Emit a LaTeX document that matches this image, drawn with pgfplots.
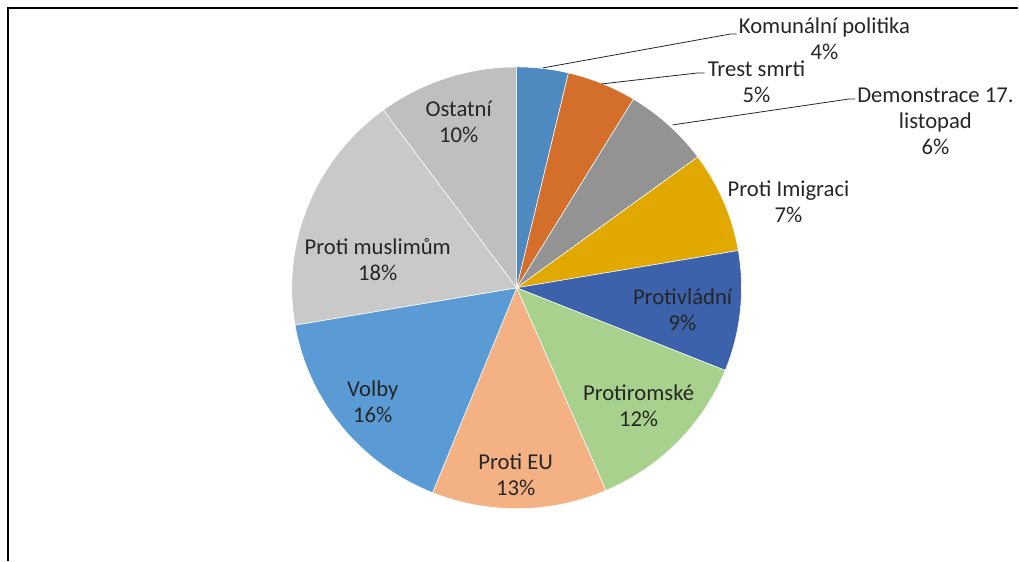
\documentclass[border=0pt]{standalone}
\usepackage{pgfplots}
\pgfplotsset{compat=1.18}
\usepackage{fontspec}
\setmainfont{Carlito}

\definecolor{cKom}{HTML}{4E8AC0}
\definecolor{cTrest}{HTML}{D36E2B}
\definecolor{cDemo}{HTML}{939393}
\definecolor{cImig}{HTML}{E1A800}
\definecolor{cVlad}{HTML}{3C62AC}
\definecolor{cRom}{HTML}{A8D18D}
\definecolor{cEU}{HTML}{F4B183}
\definecolor{cVolby}{HTML}{5B9BD5}
\definecolor{cMusl}{HTML}{C9C9C9}
\definecolor{cOst}{HTML}{BFBFBF}
\definecolor{txt}{HTML}{262626}

\begin{document}
\begin{tikzpicture}[lbl/.style={align=center,text=txt,font=\fontsize{17}{19.5}\selectfont}]
\begin{axis}[x=0.75pt,y=0.75pt,
    xmin=0,xmax=1019,ymin=-561,ymax=0,
    hide axis,clip=false]
  \path (axis cs:0,0) rectangle (axis cs:1019,-561);
  % frame (cropped on the right and at the bottom)
  \draw[line width=1pt] (axis cs:8,-561) -- (axis cs:8,-8) -- (axis cs:1019,-8);

  % pie: share in percent, clockwise from 12 o'clock
  \pgfplotsextra{
    \gdef\cum{0}
    \foreach \v/\c in {3.7/cKom,5.0/cTrest,6.2/cDemo,7.4/cImig,8.8/cVlad,12.4/cRom,12.6/cEU,16.2/cVolby,17.6/cMusl,10.1/cOst}{
      \pgfmathsetmacro\a{90-3.6*\cum}
      \pgfmathsetmacro\b{90-3.6*(\cum+\v)}
      \fill[\c,draw=white,line width=0.4pt] (axis cs:517,-288)
        -- ([shift={(\a:168.75pt and 165.75pt)}]axis cs:517,-288)
        arc[start angle=\a,end angle=\b,x radius=168.75pt,y radius=165.75pt] -- cycle;
      \pgfmathsetmacro\n{\cum+\v}\xdef\cum{\n}
    }
  }

  % leader lines
  \draw[txt,line width=0.6pt] (axis cs:543,-68) -- (axis cs:731,-34) -- (axis cs:737,-34);
  \draw[txt,line width=0.6pt] (axis cs:602,-84) -- (axis cs:698,-73) -- (axis cs:705,-73);
  \draw[txt,line width=0.6pt] (axis cs:673,-125) -- (axis cs:850,-99) -- (axis cs:856,-99);

  % labels
  \node[lbl] at (axis cs:825,-39) {Komunální politika\\4\%};
  \node[lbl] at (axis cs:757,-82) {Trest smrti\\5\%};
  \node[lbl] at (axis cs:936,-121) {Demonstrace 17.\\listopad\\6\%};
  \node[lbl] at (axis cs:789,-202) {Proti Imigraci\\7\%};
  \node[lbl] at (axis cs:683,-310) {Protivládní\\9\%};
  \node[lbl] at (axis cs:639,-406) {Protiromské\\12\%};
  \node[lbl] at (axis cs:516,-475) {Proti EU\\13\%};
  \node[lbl] at (axis cs:373,-402) {Volby\\16\%};
  \node[lbl] at (axis cs:378,-260) {Proti muslimům\\18\%};
  \node[lbl] at (axis cs:459,-122) {Ostatní\\10\%};
\end{axis}
\end{tikzpicture}
\end{document}
